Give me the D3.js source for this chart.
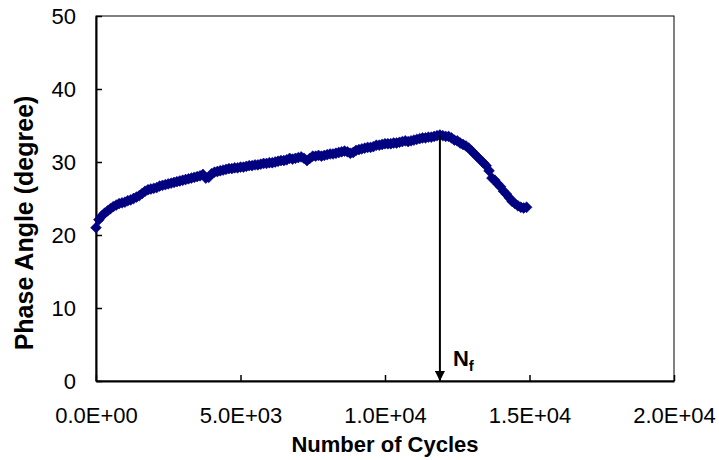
<!DOCTYPE html>
<html>
<head>
<meta charset="utf-8">
<script src="https://cdn.jsdelivr.net/npm/d3@7"></script>
<style>
  body { margin: 0; background: #fff; }
  svg { font-family: 'Liberation Sans', Arial, sans-serif; }
  .axis text { font-size: 22px; fill: #000; }
  .axis path, .axis line { stroke: #000; }
  .title { font-size: 22px; font-weight: bold; }
</style>
</head>
<body>
<div id="chart"></div>
<script>
// cycles, sampled every 100 from 0 to 14900
let cycles = d3.range(0, 15000, 100)
let phaseAngle = [
  21.0, 22.1, 22.6, 23.0, 23.3, 23.6, 23.9, 24.1, 24.3, 24.4,
  24.5, 24.7, 24.8, 25.0, 25.2, 25.4, 25.7, 26.0, 26.2, 26.3,
  26.4, 26.5, 26.7, 26.8, 26.9, 27.0, 27.1, 27.2, 27.3, 27.4,
  27.5, 27.6, 27.7, 27.8, 27.9, 28.0, 28.1, 28.3, 27.8, 27.9,
  28.4, 28.6, 28.7, 28.8, 28.9, 29.0, 29.1, 29.1, 29.2, 29.2,
  29.3, 29.3, 29.4, 29.5, 29.5, 29.6, 29.6, 29.7, 29.8, 29.8,
  29.9, 29.9, 30.0, 30.1, 30.2, 30.2, 30.3, 30.5, 30.4, 30.5,
  30.6, 30.7, 30.5, 30.2, 30.5, 30.8, 30.8, 30.9, 30.8, 30.9,
  31.0, 31.1, 31.1, 31.2, 31.3, 31.4, 31.5, 31.4, 31.2, 31.3,
  31.6, 31.7, 31.8, 31.9, 32.0, 32.0, 32.1, 32.3, 32.3, 32.4,
  32.5, 32.5, 32.5, 32.6, 32.6, 32.7, 32.8, 32.9, 32.8, 32.9,
  33.0, 33.1, 33.2, 33.3, 33.3, 33.4, 33.4, 33.5, 33.6, 33.7,
  33.6, 33.5, 33.5, 33.3, 33.0, 32.9, 32.6, 32.4, 32.2, 31.9,
  31.5, 31.1, 30.7, 30.3, 29.9, 29.5, 28.8, 27.8, 27.5, 27.0,
  26.6, 26.0, 25.6, 25.1, 24.6, 24.3, 24.0, 23.8, 23.7, 23.8
]
let xTicks = [0, 5000, 10000, 15000, 20000]
let yTicks = [0, 10, 20, 30, 40, 50]
let failureCycles = 11900
let failurePhase = 33.7

let data = cycles.map(function (c, i) { return {x: c, y: phaseAngle[i]} })

let width = 719
let height = 460
let margin = {top: 16, right: 45, bottom: 79, left: 96}

let x = d3.scaleLinear().domain([0, 20000]).range([margin.left, width - margin.right])
let y = d3.scaleLinear().domain([0, 50]).range([height - margin.bottom, margin.top])

// Excel style scientific labels, e.g. 5.0E+03
function sci (d) {
  if (d === 0) return '0.0E+00'
  let e = Math.floor(Math.log10(d))
  let m = d / Math.pow(10, e)
  return m.toFixed(1) + 'E+' + String(e).padStart(2, '0')
}

let svg = d3.select('#chart').append('svg')
    .attr('width', width)
    .attr('height', height)

// plot frame
svg.append('rect')
    .attr('x', x.range()[0])
    .attr('y', y.range()[1])
    .attr('width', x.range()[1] - x.range()[0])
    .attr('height', y.range()[0] - y.range()[1])
    .attr('fill', 'none')
    .attr('stroke', '#000')
    .attr('stroke-width', 1)

let xAxis = d3.axisBottom(x).tickValues(xTicks).tickFormat(sci)
    .tickSizeInner(-6).tickSizeOuter(0).tickPadding(26)
let yAxis = d3.axisLeft(y).tickValues(yTicks)
    .tickSizeInner(-6).tickSizeOuter(0).tickPadding(20)

svg.append('g')
    .attr('class', 'x axis')
    .attr('transform', 'translate(0,' + y.range()[0] + ')')
    .call(xAxis)
    .call(function (g) { g.select('.domain').attr('stroke-width', 2) })
    .call(function (g) { g.selectAll('.tick line').attr('stroke-width', 1.5) })

svg.append('g')
    .attr('class', 'y axis')
    .attr('transform', 'translate(' + x.range()[0] + ',0)')
    .call(yAxis)
    .call(function (g) { g.select('.domain').attr('stroke-width', 2) })
    .call(function (g) { g.selectAll('.tick line').attr('stroke-width', 1.5) })

// markers (diamonds)
let r = 5.4
svg.append('g').selectAll('path')
    .data(data)
  .enter().append('path')
    .attr('transform', function (d) { return 'translate(' + x(d.x) + ',' + y(d.y) + ')' })
    .attr('d', 'M0,' + (-r) + 'L' + r + ',0L0,' + r + 'L' + (-r) + ',0Z')
    .attr('fill', '#000080')
    .attr('stroke', '#000080')
    .attr('stroke-width', 0.6)

// failure arrow
svg.append('defs').append('marker')
    .attr('id', 'arrow')
    .attr('viewBox', '0 0 10 10')
    .attr('refX', 10)
    .attr('refY', 5)
    .attr('markerWidth', 5)
    .attr('markerHeight', 5)
    .attr('markerUnits', 'strokeWidth')
    .attr('orient', 'auto')
  .append('path')
    .attr('d', 'M0,0L10,5L0,10Z')
    .attr('fill', '#000')

svg.append('line')
    .attr('x1', x(failureCycles))
    .attr('x2', x(failureCycles))
    .attr('y1', y(failurePhase))
    .attr('y2', y(0))
    .attr('stroke', '#000')
    .attr('stroke-width', 2)
    .attr('marker-end', 'url(#arrow)')

let nf = svg.append('text')
    .attr('class', 'title')
    .attr('x', x(failureCycles) + 13)
    .attr('y', 366)
nf.append('tspan').text('N')
nf.append('tspan').attr('dy', 5).style('font-size', '15px').text('f')

// axis titles
svg.append('text')
    .attr('class', 'title')
    .attr('x', (x.range()[0] + x.range()[1]) / 2)
    .attr('y', 452)
    .attr('text-anchor', 'middle')
    .text('Number of Cycles')

svg.append('text')
    .attr('class', 'title')
    .attr('transform', 'translate(33,223)rotate(-90)')
    .attr('text-anchor', 'middle')
    .style('font-size', '25px')
    .text('Phase Angle (degree)')
</script>
</body>
</html>
